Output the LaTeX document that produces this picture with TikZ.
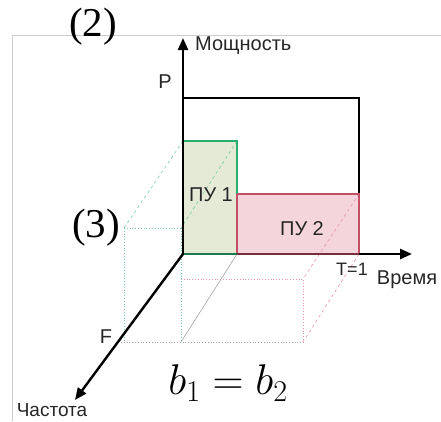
\RequirePackage{fix-cm}
\documentclass[tikz,border=0pt]{standalone}
\usepackage{fontspec}
\setmainfont{Liberation Serif}
\newfontfamily\sansf{Liberation Sans}
\usetikzlibrary{arrows.meta}
\definecolor{framegray}{RGB}{205,205,205}
\definecolor{gline}{RGB}{40,175,110}
\definecolor{gfill}{RGB}{228,234,214}
\definecolor{gfaint}{RGB}{120,205,165}
\definecolor{rline}{RGB}{195,80,100}
\definecolor{rfill}{RGB}{243,213,219}
\definecolor{rfaint}{RGB}{235,150,165}
\definecolor{gyfaint}{RGB}{165,165,165}
\begin{document}
\begin{tikzpicture}[x=1pt,y=-1pt,
  lbl/.style={font=\sansf\fontsize{20}{20}\selectfont, inner sep=0pt, text=black!85},
  bigl/.style={font=\fontsize{41}{41}\selectfont, inner sep=0pt},
  axis/.style={line width=2.4pt, -{Triangle[length=12pt,width=10pt]}},
  gdot/.style={gfaint, line width=0.8pt, dotted},
  rdot/.style={rfaint, line width=0.8pt, dotted},
  ydot/.style={gyfaint, line width=0.8pt, dotted},
  thinl/.style={line width=0.6pt}]
\useasboundingbox (0,0) rectangle (441,421);
% frame
\draw[framegray, line width=0.7pt] (12,421) -- (12,35) -- (441,35);
% coordinates
\coordinate (O) at (183,254);
\coordinate (Ptop) at (183,38);
\coordinate (Tend) at (412,254);
\coordinate (Fend) at (75,400);
\coordinate (Btl) at (183,98);
\coordinate (Bbr) at (359,254);
\coordinate (Gtl) at (183,141);
\coordinate (Gtr) at (237,141);
\coordinate (Gbr) at (237,254);
\coordinate (Rtl) at (237,194);
\coordinate (Rtr) at (359,194);
\coordinate (Rbr) at (359,254);
% shadow (back) corners
\coordinate (gTL) at (124,228);
\coordinate (gTR) at (181,228);
\coordinate (gBL) at (121,342);
\coordinate (gBR) at (181,342);
\coordinate (rTL) at (181,279);
\coordinate (rTR) at (303,279);
\coordinate (rBR) at (303,342);
% shadow wireframe
\draw[gdot] (gTL) -- (gTR);
\draw[gdot] (gTL) -- (gTL |- gBL);
\draw[gdot] (gTR) -- (gBR);
\draw[rdot] (rTL) -- (rTR) -- (rBR);
\draw[ydot] (gBL) -- (rBR);
\draw[gfaint, thinl, dashed] (Gtl) -- (gTL);
\draw[gyfaint, thinl] (Gbr) -- (gBR);
\draw[rfaint, thinl, dashed] (Rbr) -- (rBR);
% boxes
\draw[line width=2pt] (Btl) rectangle (Bbr);
\fill[gfill] (Gtl) rectangle (Gbr);
\fill[rfill] (Rtl) rectangle (Rbr);
\draw[gfaint, thinl, dashed] (Gtr) -- (gTR);
\draw[rfaint, thinl, dashed] (Rtr) -- (rTR);
\draw[gline, line width=1.3pt] (Gbr) -- (Gtr) -- (Gtl);
\draw[rline, line width=1.3pt] (Rtl) -- (Rtr) -- (Rbr);
\draw[rline, line width=1.3pt] (Rtl) -- (Gbr);
\draw[gline!70!black, line width=2pt] (Gtl) -- (O) -- (Gbr);
\draw[rline!60!black, line width=2pt] (Gbr) -- (Rbr);
% axes
\draw[axis] (O) -- (Ptop);
\draw[axis] (Rbr) -- (Tend);
\draw[axis] (O) -- (Fend);
% labels
\node[lbl, anchor=west] (mosh) at (195,46) {Мощность};
\node[lbl] (p) at (165,82) {P};
\node[lbl] (pu1) at (211,195) {ПУ 1};
\node[lbl] (pu2) at (302,229) {ПУ 2};
\node[lbl, font=\sansf\fontsize{18}{18}\selectfont] (t1) at (352,269) {T=1};
\node[lbl] (vr) at (407,280) {Время};
\node[lbl, font=\sansf\fontsize{19}{19}\selectfont, anchor=base] (ch) at (52,416) {Частота};
\node[lbl] (f) at (106,337) {F};
\node[bigl] (n2) at (93,27) {(2)};
\node[bigl] (n3) at (96,228) {(3)};
\node[inner sep=0pt, font=\fontsize{43}{43}\selectfont] (eq) at (228,383) {$b_1 = b_2$};
\end{tikzpicture}
\end{document}
